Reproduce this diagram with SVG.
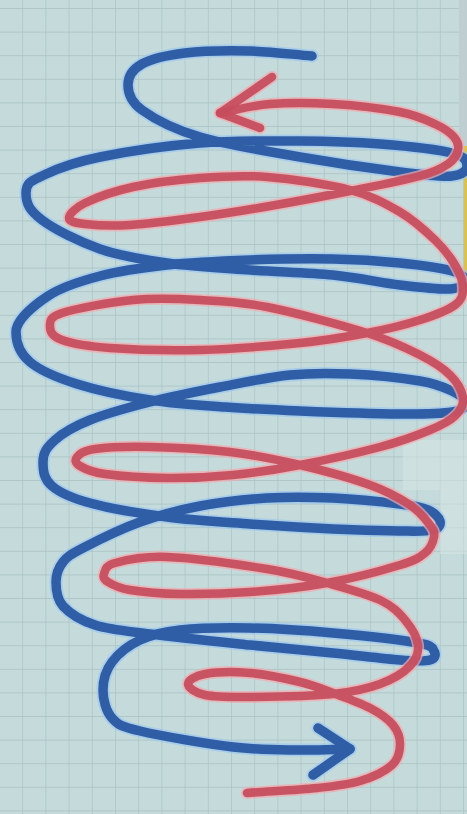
<svg xmlns="http://www.w3.org/2000/svg" width="467" height="814" viewBox="0 0 467 814">
<defs>
<pattern id="grid" x="-1" y="8" width="23.2" height="23.6" patternUnits="userSpaceOnUse">
<path d="M0,0 H23.2 M0,0 V23.6" fill="none" stroke="#a8c1c4" stroke-width="1.3"/>
</pattern>
<path id="bluePath" d="M312,56 C291.3,54.3 271.2,51.5 250,51 S203,50.8 185,53 S151.5,58.7 142,64 S128,77.3 128,85 S130,101.3 142,110 S173.7,129.2 200,137 S266.7,151.2 300,157 S374.7,168.8 400,172 S440.8,177 452,176 S467,169.8 467,166 S466.5,156.7 452,153 S405.3,146 380,144 S330,141.2 300,141 S233.3,140.3 200,143 S126,151.7 100,157 S56.3,169 44,175 S26,182 26,193 S29.7,210.7 42,220 S79.2,241.8 100,249 S142,259.5 167,263 S222.3,268 250,270 S308,272.5 333,275 S380.5,282.7 400,285 S439.2,289.7 450,289 S464.7,284 465,281 S462.8,274 452,271 S419.8,265 400,263 S358,259.5 333,259 S277.7,259 250,260 S192,262.3 167,265 S119.8,270.8 100,276 S62,286.7 48,296 S16,320 16,332 S19.8,353.3 30,362 S57,377.7 77,384 S125.3,396.2 150,400 S200,405.2 225,407 S270.8,409.8 300,411 S374.7,413.8 400,414 S441,413.8 452,412 S466,406.5 466,403 S459.7,394.7 452,391 S437,383.8 420,381 S371.7,375 350,374 S311.7,372.8 290,375 S243.3,382.5 220,387 S171.7,396.5 150,402 S105.8,413.7 90,420 S62.8,433 55,440 S43,452 43,462 S44.2,479.2 52,486 S70.8,497.8 90,503 S140.3,513.5 167,517 S222.3,522 250,524 S308,527.8 333,529 S383.3,530.8 400,531 S426.3,531.7 433,530 S440.8,524.3 440,521 S434.7,512.8 428,510 S415.8,506 400,504 S355.2,499 333,498 S289.2,496.7 267,498 S221.2,502 200,506 S159.5,515 140,522 S95.8,541.3 83,548 S67.5,556.3 63,562 S56,574.7 56,582 S56.5,598.8 63,606 S80.5,620.3 95,625 S124.2,630.7 150,634 S219.5,641.8 250,645 S308,650.5 333,653 S383.8,658.8 400,660 S424.3,661.5 430,660 S436,653.8 434,651 S434.8,646 418,643 S361,635.5 333,633 S275.5,628.5 250,628 S198.3,628 180,630 S151.3,634.7 140,640 S118.2,653.7 112,662 S103,680.7 103,690 S105.8,711.2 112,718 S119.8,726.2 140,731 S206.3,743.8 233,747 S280.5,749.7 300,750 S333.3,749.3 350,749"/>
<path id="redPath" d="M220,113 C236.7,110 251.2,105.5 270,104 S311.3,102.7 333,104 S383,108.7 400,112 S426,119.8 435,124 S450.2,132.7 454,137 S459,145.5 458,150 S454.3,159.7 448,164 S436.3,171.5 420,176 S375,186 350,191 S295,201.7 270,206 S223.3,213.8 200,217 S149.2,223.8 130,225 S95.2,225.2 85,224 S69,221.5 69,218 S74.3,208.2 85,203 S113.8,191.2 133,187 S177.7,179.7 200,178 S242,175 267,177 S327.8,184.2 350,190 S385.8,203.7 400,212 S425.8,231.2 435,240 S450.3,257 455,265 S463,281.3 463,288 S462.2,299.7 455,305 S434.7,315.3 420,320 S387,329.2 367,333 S327.8,340.2 300,343 S231.7,349.2 200,350 S133,349.7 110,348 S72,343.5 62,340 S50,331.5 50,327 S48.2,317.5 62,313 S110,302.2 133,300 S177.7,298.8 200,300 S239.2,301.5 267,307 S341.5,325 367,333 S406.2,348 420,355 S442.8,367.8 450,375 S462.2,391.2 463,398 S460.5,410.7 455,416 S442.5,424.8 430,430 S401.7,441.2 380,447 S324.5,460.3 300,465 S255.2,472.8 233,475 S188.3,478.2 167,478 S119.5,476 105,474 S84.7,468.8 80,466 S74.5,459.8 77,457 S82.8,450.7 95,449 S127.5,446.5 150,447 S205,449 230,452 S276.7,459.5 300,465 S351.7,478.3 370,485 S400,498.3 410,505 S426,519.7 430,525 S434.8,532.3 434,537 S430.7,548.3 425,553 S416.3,560 400,565 S352,578.5 327,583 S274.5,590.2 250,592 S200,594.3 180,594 S142,592 130,590 S112.3,584.7 108,582 S102.8,577.2 104,574 S104.5,565.8 115,563 S141.7,556 167,557 S240.3,564.7 267,569 S308.2,577.8 327,583 S367,593.8 380,600 S398.7,612.5 405,620 S417.2,637.3 418,645 S416.3,659.5 410,666 S392.8,679.3 380,684 S354.7,691.8 333,694 S271.3,696.8 250,697 S215.3,697.2 205,695 S188,687.5 188,684 S194.7,675.8 205,674 S234.2,671.7 250,673 S286.2,678.7 300,682 S321.3,688.7 333,693 S360,702.7 370,708 S388,718.8 393,725 S400.2,738.3 400,745 S398.7,759 392,765 S372.5,777.2 360,781 S335.8,786 317,788 S270.3,791.3 247,793"/>
</defs>
<style>
.halo-b{fill:none;stroke:#9cc8ee;stroke-width:13;stroke-linecap:round;stroke-linejoin:round;opacity:0.7}
.ink-b{fill:none;stroke:#2f5ea6;stroke-width:9.5;stroke-linecap:round;stroke-linejoin:round}
.halo-r{fill:none;stroke:#f2a9ae;stroke-width:12;stroke-linecap:round;stroke-linejoin:round;opacity:0.7}
.ink-r{fill:none;stroke:#c64c5c;stroke-width:8.5;stroke-linecap:round;stroke-linejoin:round;opacity:0.93}
</style>
<g id="paper">
<rect x="0" y="0" width="467" height="814" fill="#c5dbdb"/>
<rect x="0" y="0" width="467" height="814" fill="url(#grid)"/>
<rect x="459" y="0" width="8" height="146" fill="#bfcfd1"/>
<rect x="464" y="146" width="3" height="146" fill="#dcc24a"/>
<rect x="403" y="440" width="64" height="50" fill="#d3e3e1" opacity="0.6"/>
<rect x="440" y="490" width="27" height="64" fill="#d3e3e1" opacity="0.6"/>
</g>
<g id="blue-spiral">
<use href="#bluePath" class="halo-b"/>
<path d="M318,728 L350,749 L313,775" class="halo-b"/>
<use href="#bluePath" class="ink-b"/>
<path d="M318,728 L350,749 L313,775" class="ink-b"/>
</g>
<g id="red-spiral">
<use href="#redPath" class="halo-r"/>
<path d="M272,77 L220,113 L260,128" class="halo-r"/>
<use href="#redPath" class="ink-r"/>
<path d="M272,77 L220,113 L260,128" class="ink-r"/>
</g>
</svg>
